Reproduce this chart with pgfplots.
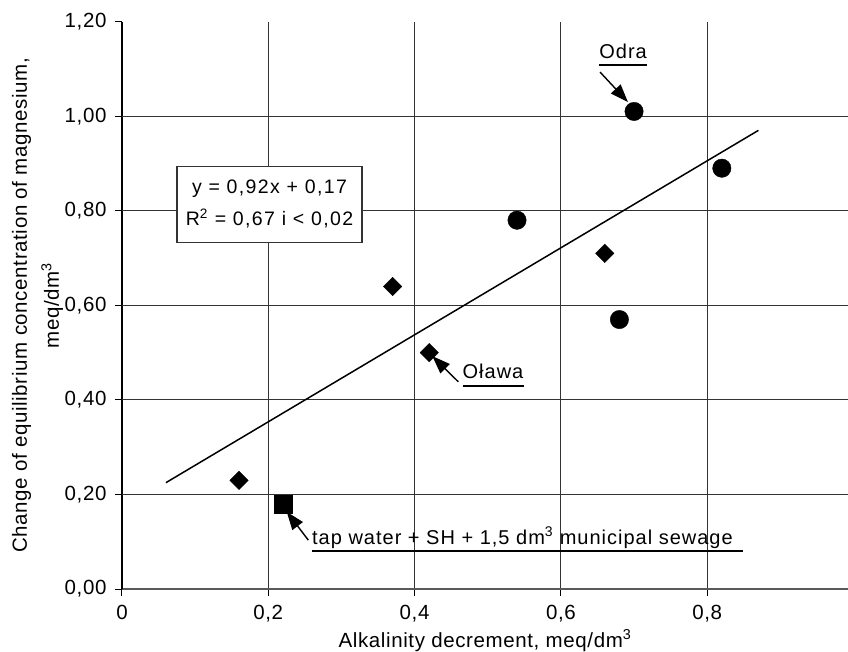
\documentclass[border=0pt]{standalone}
\usepackage{fontspec}
\setmainfont{Liberation Sans}
\newfontfamily\annfont[LetterSpace=5]{Liberation Sans}
\newfontfamily\boxfont[LetterSpace=7]{Liberation Sans}
\newfontfamily\axfont[LetterSpace=3]{Liberation Sans}
\usepackage{pgfplots}
\pgfplotsset{compat=1.18}
\usetikzlibrary{arrows.meta}
\begin{document}
\begin{tikzpicture}
\path[use as bounding box] (-122bp,-62bp) rectangle (726bp,589.1bp);
\begin{axis}[
  at={(0,0)}, anchor=south west,
  scale only axis, width=726bp, height=567.5bp,
  xmin=0, xmax=0.9925, ymin=0, ymax=1.2,
  clip=false,
  axis x line*=bottom, axis y line*=left,
  x axis line style={draw=black!65, line width=2.4bp},
  y axis line style={draw=black, line width=1.2bp},
  xtick={0,0.2,0.4,0.6,0.8},
  ytick={0,0.2,0.4,0.6,0.8,1.0,1.2},
  tick align=outside, major tick length=7bp,
  tick style={black, line width=1bp},
  xmajorgrids=true, ymajorgrids=false,
  extra y ticks={0.2,0.4,0.6,0.8,1.0},
  extra y tick labels={},
  extra y tick style={grid=major, major tick length=0pt},
  major grid style={draw=black!80, line width=1bp},
  /pgf/number format/assume math mode=true,
  ticklabel style={font=\axfont\fontsize{20.5bp}{24bp}\selectfont},
  yticklabel style={xshift=-5bp, /pgf/number format/.cd, fixed, fixed zerofill, precision=2, use comma},
  xticklabel style={yshift=-6bp, /pgf/number format/.cd, fixed, precision=1, use comma},
]
% trend line
\addplot[black, line width=1.5bp] coordinates {(0.06,0.225) (0.87,0.970)};
% circles
\addplot[only marks, mark=*, mark size=9.2bp, mark options={fill=black, draw=black}] coordinates {
  (0.54,0.78) (0.70,1.01) (0.82,0.89) (0.68,0.57)};
% diamonds
\addplot[only marks, mark=square*, mark size=6.5bp, mark options={rotate=45, fill=black, draw=black}] coordinates {
  (0.16,0.23) (0.37,0.64) (0.42,0.50) (0.66,0.71)};
% square
\addplot[only marks, mark=square*, mark size=9.2bp, mark options={fill=black, draw=black}] coordinates {
  (0.22,0.18)};

% equation box
\node[draw=black!80, line width=1.2bp, minimum width=185bp, minimum height=76bp, fill=white,
      align=center, font=\boxfont\fontsize{19.5bp}{31.6bp}\selectfont]
  at (axis cs:0.2016,0.814) {y = 0,92x + 0,17\\R\textsuperscript{2} = 0,67 i < 0,02};

% Odra
\node[anchor=base, font=\annfont\fontsize{20bp}{24bp}\selectfont, inner sep=0pt] at (axis cs:0.685,1.1229) {Odra};
\draw[line width=2.2bp] (axis cs:0.6521,1.108) -- (axis cs:0.7177,1.108);
\draw[-{Triangle[length=18bp,width=13bp]}, line width=1.4bp] (axis cs:0.6535,1.0933) -- (axis cs:0.6917,1.0298);

% Olawa
\node[anchor=base, font=\annfont\fontsize{20bp}{24bp}\selectfont, inner sep=0pt] at (axis cs:0.5072,0.4456) {Oława};
\draw[line width=2.2bp] (axis cs:0.4662,0.4293) -- (axis cs:0.5496,0.4293);
\draw[-{Triangle[length=18bp,width=13bp]}, line width=1.4bp] (axis cs:0.4598,0.4383) -- (axis cs:0.4242,0.4927);

% tap water
\node[anchor=base west, font=\annfont\fontsize{20bp}{24bp}\selectfont, inner sep=0pt] at (axis cs:0.2597,0.0952) {tap water + SH + 1,5 dm\textsuperscript{3} municipal sewage};
\draw[line width=2.2bp] (axis cs:0.2597,0.0804) -- (axis cs:0.8490,0.0804);
\draw[-{Triangle[length=18bp,width=13bp]}, line width=1.4bp] (axis cs:0.2547,0.1036) -- (axis cs:0.2252,0.1635);

% axis labels
\node[rotate=90, anchor=base, inner sep=0pt, font=\axfont\fontsize{20.5bp}{24bp}\selectfont] at (axis description cs:-0.1309,0.5) {Change of equilibrium concentration of magnesium,};
\node[rotate=90, anchor=base, inner sep=0pt, font=\axfont\fontsize{20.5bp}{24bp}\selectfont] at (axis description cs:-0.0868,0.5) {meq/dm\textsuperscript{3}};
\node[anchor=base, inner sep=0pt, font=\axfont\fontsize{20.5bp}{24bp}\selectfont] at (axis description cs:0.5,-0.1022) {Alkalinity decrement, meq/dm\textsuperscript{3}};
\end{axis}
\end{tikzpicture}
\end{document}
